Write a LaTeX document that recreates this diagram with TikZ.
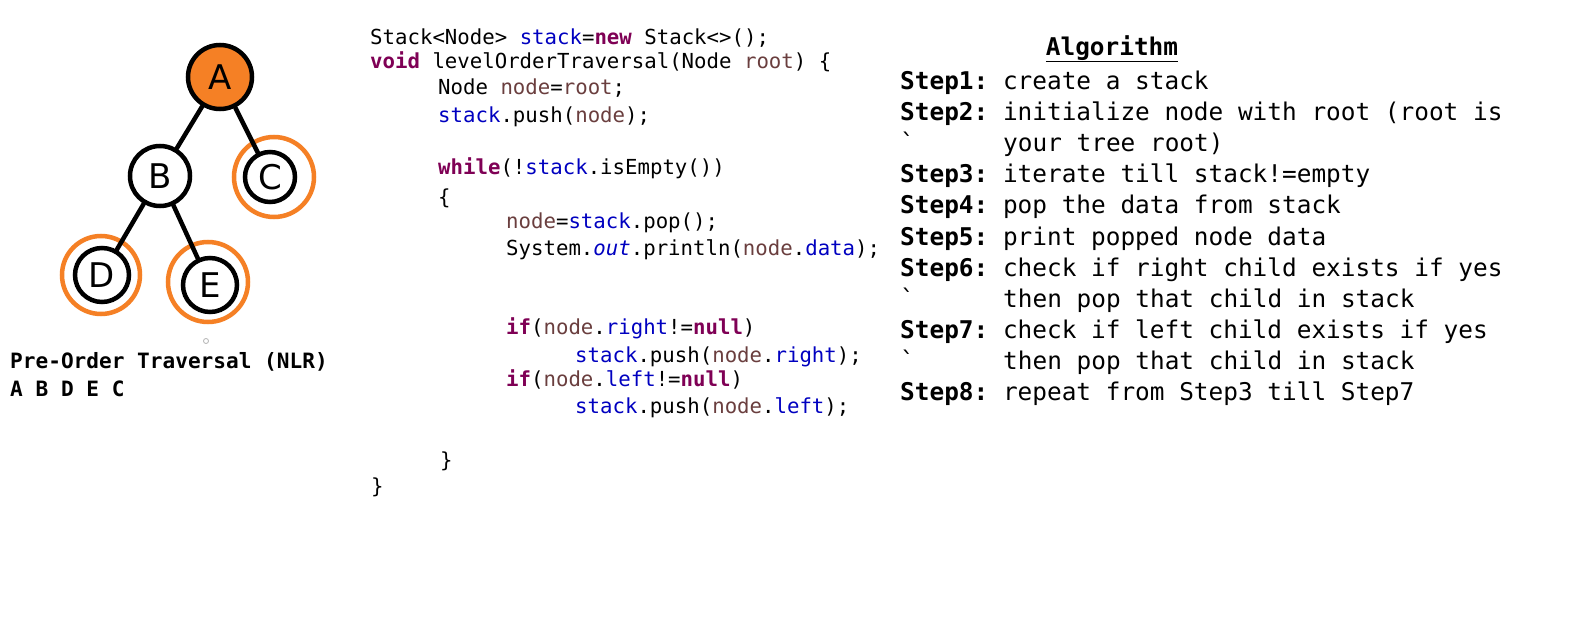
\documentclass[tikz,border=0pt]{standalone}
\usepackage{fontspec}
\setmonofont{DejaVu Sans Mono}
\setsansfont{DejaVu Sans}
\definecolor{kwc}{HTML}{7F0055}
\definecolor{fldc}{HTML}{0000C0}
\definecolor{lvc}{HTML}{6A3E3E}
\definecolor{orgc}{HTML}{F58025}
\newcommand{\kw}[1]{\textcolor{kwc}{\textbf{#1}}}
\newcommand{\fld}[1]{\textcolor{fldc}{#1}}
\newcommand{\lv}[1]{\textcolor{lvc}{#1}}
\tikzset{
  codeline/.style={anchor=base west, inner sep=0, font=\ttfamily\fontsize{20.7}{24}\selectfont},
  algline/.style={anchor=base west, inner sep=0, font=\ttfamily\fontsize{24.4}{28}\selectfont},
  lbl/.style={anchor=base west, inner sep=0, font=\ttfamily\bfseries\fontsize{21.1}{24}\selectfont},
  tnode/.style={circle, draw=black, line width=4.5pt, inner sep=0, font=\sffamily\fontsize{34}{34}\selectfont},
  ring/.style={circle, draw=orgc, line width=4.5pt, inner sep=0},
  edge/.style={draw=black, line width=4.5pt, line cap=round}
}
\begin{document}
\begin{tikzpicture}[x=1pt,y=-1pt]
\useasboundingbox[fill=white] (0,0) rectangle (1575,629);

% tree
\node[tnode, fill=orgc, minimum size=64] (A) at (220,77) {A};
\node[tnode, minimum size=60] (B) at (160,176) {B};
\node[ring, minimum size=80] (Cr) at (274,177) {};
\node[tnode, minimum size=50] (C) at (270,177) {C};
\node[ring, minimum size=78] (Dr) at (101,275) {};
\node[tnode, minimum size=54] (D) at (102,275) {D};
\node[ring, minimum size=80] (Er) at (208,282) {};
\node[tnode, minimum size=54] (E) at (210,285) {E};
\draw[edge] (A) -- (B);
\draw[edge] (A) -- (C);
\draw[edge] (B) -- (D);
\draw[edge] (B) -- (E);
\node[circle, draw=gray!60, line width=0.8pt, minimum size=5, inner sep=0] (dot) at (206,341) {};

\node[lbl] (pre) at (10,368) {Pre-Order Traversal (NLR)};
\node[lbl] (seq) at (10,396) {A B D E C};

% code
\node[codeline] (c1) at (370,44) {Stack<Node> \fld{stack}=\kw{new} Stack<>();};
\node[codeline] (c2) at (370,68) {\kw{void} levelOrderTraversal(Node \lv{root}) \{};
\node[codeline] (c3) at (438,94) {Node \lv{node}=\lv{root};};
\node[codeline] (c4) at (438,122) {\fld{stack}.push(\lv{node});};
\node[codeline] (c5) at (438,174) {\kw{while}(!\fld{stack}.isEmpty())};
\node[codeline] (c6) at (438,204) {\{};
\node[codeline] (c7) at (506,228) {\lv{node}=\fld{stack}.pop();};
\node[codeline] (c8) at (506,255) {System.\fld{\itshape out}.println(\lv{node}.\fld{data});};
\node[codeline] (c9) at (506,334) {\kw{if}(\lv{node}.\fld{right}!=\kw{null})};
\node[codeline] (c10) at (575,362) {\fld{stack}.push(\lv{node}.\fld{right});};
\node[codeline] (c11) at (506,386) {\kw{if}(\lv{node}.\fld{left}!=\kw{null})};
\node[codeline] (c12) at (575,413) {\fld{stack}.push(\lv{node}.\fld{left});};
\node[codeline] (c13) at (440,467) {\}};
\node[codeline] (c14) at (371,493) {\}};

% algorithm
\node[algline, anchor=base] (title) at (1112,55) {\textbf{\underline{Algorithm}}};
\node[algline] (s1) at (900,89.5) {\textbf{Step1:} create a stack};
\node[algline] (s2) at (900,120.6) {\textbf{Step2:} initialize node with root (root is};
\node[algline] (s2a) at (900,151.7) {\char96};
\node[algline] (s2b) at (1003,151.7) {your tree root)};
\node[algline] (s3) at (900,182.8) {\textbf{Step3:} iterate till stack!=empty};
\node[algline] (s4) at (900,213.9) {\textbf{Step4:} pop the data from stack};
\node[algline] (s5) at (900,245) {\textbf{Step5:} print popped node data};
\node[algline] (s6) at (900,276.1) {\textbf{Step6:} check if right child exists if yes};
\node[algline] (s6a) at (900,307.2) {\char96};
\node[algline] (s6b) at (1003,307.2) {then pop that child in stack};
\node[algline] (s7) at (900,338.3) {\textbf{Step7:} check if left child exists if yes};
\node[algline] (s7a) at (900,369.4) {\char96};
\node[algline] (s7b) at (1003,369.4) {then pop that child in stack};
\node[algline] (s8) at (900,400.5) {\textbf{Step8:} repeat from Step3 till Step7};
\end{tikzpicture}
\end{document}
